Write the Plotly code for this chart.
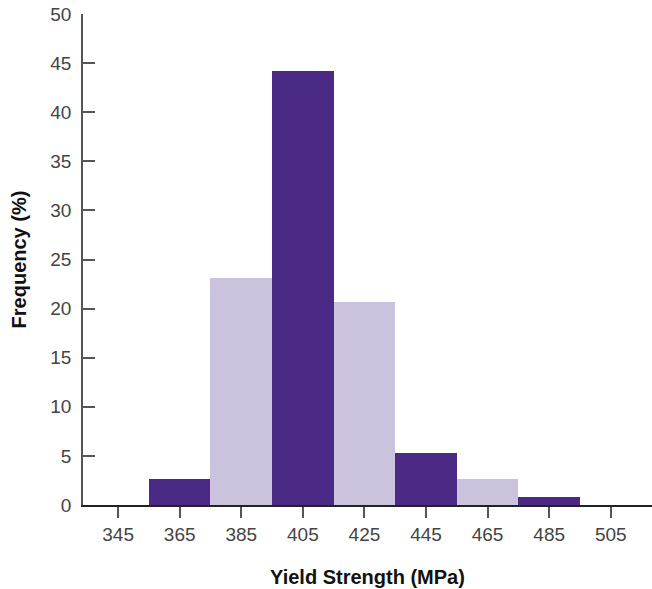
import plotly.graph_objects as go

bin_centers = [365, 385, 405, 425, 445, 465, 485]
frequency = [2.66, 23.1, 44.2, 20.7, 5.3, 2.66, 0.79]
bar_colors = ["#4b2a85", "#cbc3dd", "#4b2a85", "#cbc3dd", "#4b2a85", "#cbc3dd", "#4b2a85"]
x_ticks = [345, 365, 385, 405, 425, 445, 465, 485, 505]
y_ticks = [0, 5, 10, 15, 20, 25, 30, 35, 40, 45, 50]

fig = go.Figure(
    go.Bar(
        x=bin_centers,
        y=frequency,
        width=20,
        marker=dict(color=bar_colors, line=dict(width=0)),
        hoverinfo="x+y",
    )
)

axis_color = "#555555"
tick_font = dict(family="Liberation Sans, Arial, sans-serif", size=19, color="#444444")
title_font = dict(family="Liberation Sans, Arial, sans-serif", size=20, color="#111111")

fig.update_layout(
    width=652,
    height=589,
    margin=dict(l=83, r=0, t=14, b=84),
    paper_bgcolor="white",
    plot_bgcolor="white",
    showlegend=False,
    bargap=0,
    xaxis=dict(
        range=[333.6, 518.4],
        tickvals=x_ticks,
        ticktext=[str(v) for v in x_ticks],
        ticks="outside",
        ticklen=11,
        tickwidth=1.5,
        tickcolor=axis_color,
        showline=True,
        linecolor="#222222",
        linewidth=1.5,
        showgrid=False,
        zeroline=False,
        automargin=False,
        tickfont=tick_font,
        title=dict(text="<b>Yield Strength (MPa)</b>", font=title_font, standoff=26),
    ),
    yaxis=dict(
        range=[0, 50],
        tickvals=y_ticks,
        ticks="inside",
        ticklen=12,
        tickwidth=1.5,
        tickcolor=axis_color,
        ticklabelstandoff=6,
        showline=True,
        linecolor=axis_color,
        linewidth=1.5,
        showgrid=False,
        zeroline=False,
        automargin=False,
        tickfont=tick_font,
        title=dict(text="<b>Frequency (%)</b>", font=title_font, standoff=18),
    ),
)

fig.write_html(
    "out.html",
    config={"displayModeBar": False},
    post_script="document.body.style.margin='0';document.body.style.overflow='hidden';",
)
